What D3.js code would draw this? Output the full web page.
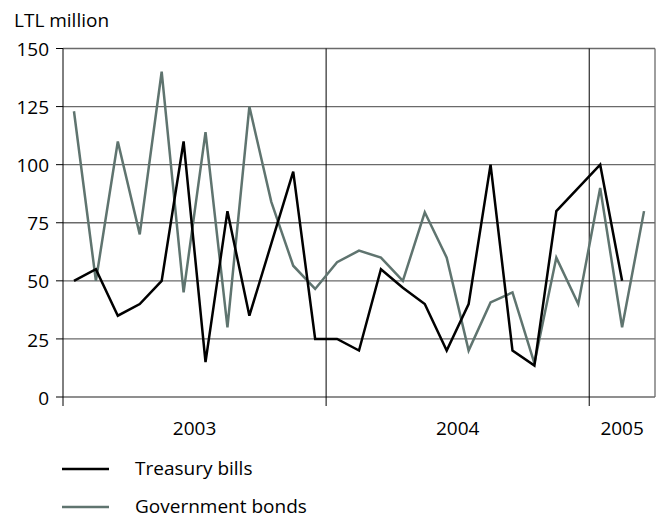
<!DOCTYPE html>
<html><head><meta charset="utf-8">
<script src="https://cdn.jsdelivr.net/npm/d3@7"></script>
<style>body{margin:0;background:#fff}svg{display:block;font-family:"Open Sans",sans-serif}</style>
</head><body><svg id="c" width="659" height="518"></svg>
<script>
const months = ["2003-01","2003-02","2003-03","2003-04","2003-05","2003-06","2003-07","2003-08","2003-09","2003-10","2003-11","2003-12",
"2004-01","2004-02","2004-03","2004-04","2004-05","2004-06","2004-07","2004-08","2004-09","2004-10","2004-11","2004-12",
"2005-01","2005-02","2005-03"];
const treasuryBills = [50,55,35,40,50,110,15,80,35,66,97,25,25,20,55,47,40,20,40,100,20,13.5,80,90,100,50];
const governmentBonds = [123,50,110,70,140,45,114,30,125,84,56.5,46.5,58,63,60,50,79.5,60,20,40.7,45,14.5,60,40,90,30,80];
const yTicks = [0,25,50,75,100,125,150];
const years = ["2003","2004","2005"];
const yearBounds = [0,12,24,27];
const seriesNames = ["Treasury bills","Government bonds"];
const colors = ["#000000","#5f746f"];

const svg = d3.select("#c");
const FS = 19;
const L=63, R=655, T=48.5, B=397;
const x = d3.scaleLinear().domain([0, months.length]).range([L, R]);
const y = d3.scaleLinear().domain([0,150]).range([B, T]);

svg.append("g").selectAll("line").data(yTicks).join("line")
  .attr("x1", L).attr("x2", R).attr("y1", d=>y(d)).attr("y2", d=>y(d))
  .attr("stroke", "#6a6a6a").attr("stroke-width", 1.3);
svg.append("line").attr("x1",R).attr("x2",R).attr("y1",T).attr("y2",B).attr("stroke","#6a6a6a").attr("stroke-width",1.3);
svg.append("g").selectAll("line").data(yearBounds.slice(0,3)).join("line")
  .attr("x1", d=>x(d)).attr("x2", d=>x(d)).attr("y1", T).attr("y2", 406)
  .attr("stroke", "#000").attr("stroke-width", 1);
svg.append("g").selectAll("line").data(yTicks).join("line")
  .attr("x1", 56).attr("x2", L).attr("y1", d=>y(d)).attr("y2", d=>y(d))
  .attr("stroke", "#000").attr("stroke-width", 1);
svg.append("g").selectAll("text").data(yTicks).join("text")
  .attr("x", 49).attr("y", d=>y(d)).attr("dy","0.4em").attr("text-anchor","end")
  .attr("font-size", FS).attr("fill","#000").text(d=>d);
svg.append("g").selectAll("text").data(years).join("text")
  .attr("x", (d,i)=> (x(yearBounds[i])+x(yearBounds[i+1]))/2).attr("y", 435)
  .attr("text-anchor","middle").attr("font-size",FS).text(d=>d);
svg.append("text").attr("x",14).attr("y",27).attr("font-size",FS).text("LTL million");

const line = d3.line().x((d,i)=>x(i+0.5)).y(d=>y(d));
[1,0].forEach(idx=>{
  const s = idx===0 ? treasuryBills : governmentBonds;
  svg.append("path").attr("d", line(s)).attr("fill","none")
    .attr("stroke", colors[idx]).attr("stroke-width", 2.5).attr("stroke-linejoin","miter");
});
const lg = svg.append("g");
seriesNames.forEach((n,i)=>{
  const ly = 469 + i*38;
  lg.append("line").attr("x1",62).attr("x2",109).attr("y1",ly).attr("y2",ly).attr("stroke",colors[i]).attr("stroke-width",2.5);
  lg.append("text").attr("x",135).attr("y",ly).attr("dy","0.33em").attr("font-size",FS).text(n);
});
</script></body></html>
